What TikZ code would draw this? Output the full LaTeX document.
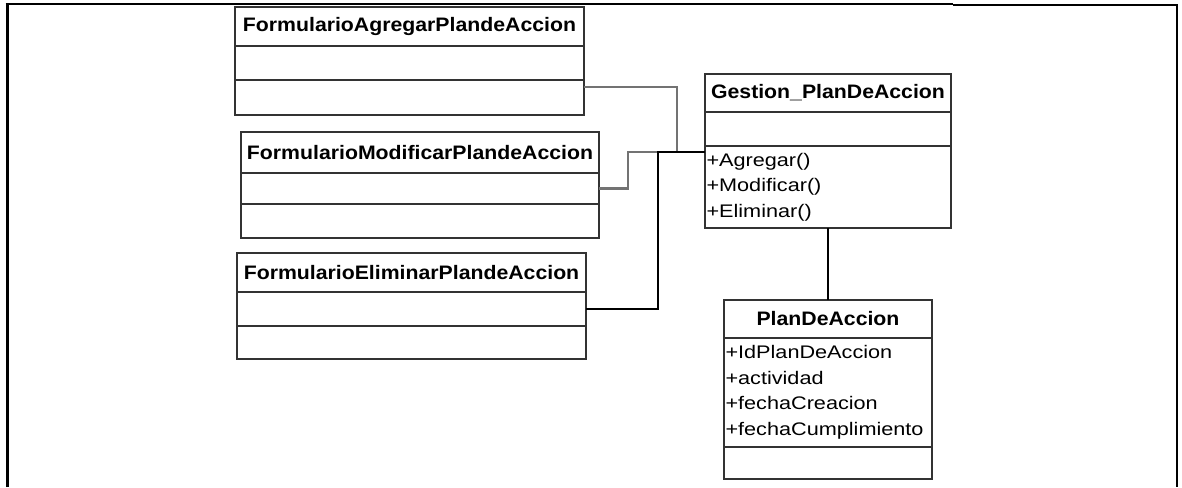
\documentclass[tikz,border=0pt]{standalone}
\usepackage{fontspec}
\newfontfamily\umlfont{Liberation Sans}[FakeStretch=1.19]
\newfontfamily\umlbold{Liberation Sans}[FakeStretch=1.09]
\usetikzlibrary{positioning}

\begin{document}
\begin{tikzpicture}[x=1pt,y=-1pt,
  box/.style={draw=black!80, line width=2.2pt, fill=white, inner sep=0pt, outer sep=0pt},
  classname/.style={box, font=\umlbold\bfseries\fontsize{19.5}{24}\selectfont},
  part/.style={box, font=\umlfont\fontsize{18.2}{25.5}\selectfont, align=left, inner xsep=1.5pt},
  link/.style={draw=black, line width=2.4pt},
  linkgray/.style={draw=black!55, line width=2.4pt}]

\useasboundingbox (0,0) rectangle (1182,487);

% page frame
\draw[line width=3pt] (7,487) -- (7,4);
\draw[line width=1.5pt] (5.5,4) -- (953,4);
\draw[line width=2.5pt] (953,5) -- (1177,5) -- (1177,487);

\coordinate (a) at (0,87);
\coordinate (J) at (677,152);
\coordinate (K) at (628,152);
\coordinate (L) at (658,152);

% formularios
\node[classname, anchor=north west, minimum width=349pt, minimum height=39pt] (agregar) at (235,7) {FormularioAgregarPlandeAccion};
\node[part, below=0pt of agregar, minimum width=349pt, minimum height=34pt] (agregar-attr) {};
\node[part, below=0pt of agregar-attr, minimum width=349pt, minimum height=35pt] (agregar-ops) {};

\node[classname, anchor=north west, minimum width=358pt, minimum height=41pt] (modificar) at (241,132) {FormularioModificarPlandeAccion};
\node[part, below=0pt of modificar, minimum width=358pt, minimum height=31pt] (modificar-attr) {};
\node[part, below=0pt of modificar-attr, minimum width=358pt, minimum height=34pt] (modificar-ops) {};

\node[classname, anchor=north west, minimum width=349pt, minimum height=39pt] (eliminar) at (237,253) {FormularioEliminarPlandeAccion};
\node[part, below=0pt of eliminar, minimum width=349pt, minimum height=34pt] (eliminar-attr) {};
\node[part, below=0pt of eliminar-attr, minimum width=349pt, minimum height=33pt] (eliminar-ops) {};

% control
\node[classname, anchor=north west, minimum width=246pt, minimum height=38pt] (gestion) at (705,74) {Gestion\_PlanDeAccion};
\node[part, below=0pt of gestion, minimum width=246pt, minimum height=34pt] (gestion-attr) {};
\node[part, below=0pt of gestion-attr, text width=243pt, minimum height=82pt] (gestion-ops) {+Agregar()\\+Modificar()\\+Eliminar()};

% entidad
\node[classname, anchor=north west, minimum width=208pt, minimum height=38pt] (plan) at (724,300) {PlanDeAccion};
\node[part, below=0pt of plan, text width=205pt, minimum height=109pt] (plan-attr) {+IdPlanDeAccion\\+actividad\\+fechaCreacion\\+fechaCumplimiento};
\node[part, below=0pt of plan-attr, minimum width=208pt, minimum height=32pt] (plan-ops) {};

\draw[linkgray] (agregar-ops.east |- a) -| (J);
\draw[linkgray] (modificar-attr.east) -| (K) -- (L);
\draw[link] (eliminar-attr.east) -| (L) -- (gestion-ops.west |- L);
\draw[link] (gestion-ops.south) -- (plan.north);

\end{tikzpicture}
\end{document}
